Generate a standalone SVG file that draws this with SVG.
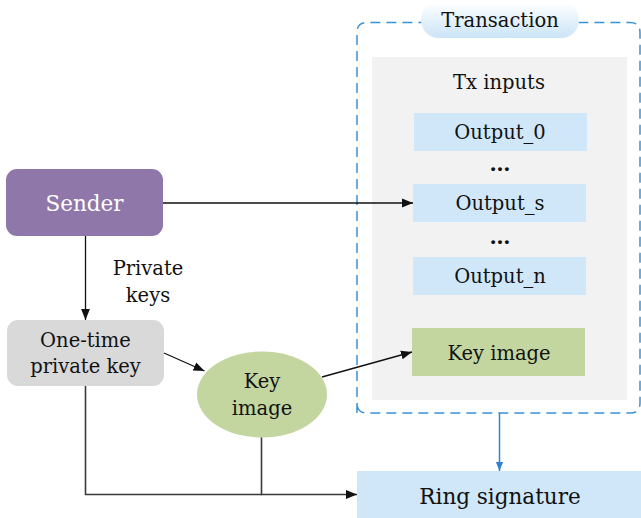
<svg xmlns="http://www.w3.org/2000/svg" width="641" height="518" viewBox="0 0 641 518">
  <style>
    text { font-family: "DejaVu Serif", "Liberation Serif", serif; fill: #111; text-anchor: middle; }
    .t { font-size: 19.5px; }
    .dots { font-size: 21px; font-weight: bold; }
    .line { fill: none; stroke: #111; stroke-width: 1.3; }
    .dark { fill: none; stroke: #3a3a3a; stroke-width: 1.6; }
    .blue { fill: #cfe7f9; }
    .green { fill: #c4d6a0; }
  </style>
  <defs>
    <marker id="arr" viewBox="0 0 10 10" refX="10" refY="5" markerWidth="11" markerHeight="11" markerUnits="userSpaceOnUse" orient="auto">
      <path d="M0,1 L10,5 L0,9 Z" fill="#111"/>
    </marker>
    <marker id="arrBlue" viewBox="0 0 10 10" refX="10" refY="5" markerWidth="9" markerHeight="9" markerUnits="userSpaceOnUse" orient="auto">
      <path d="M0,1 L10,5 L0,9 Z" fill="#2f82cf"/>
    </marker>
    <linearGradient id="pill" x1="0" y1="0" x2="0" y2="1">
      <stop offset="0" stop-color="#ffffff"/>
      <stop offset="1" stop-color="#cbe4f7"/>
    </linearGradient>
  </defs>

  <!-- transaction container -->
  <g id="transaction">
    <path d="M357,413 V32.5 Q357,22.5 367,22.5 H630 Q640,22.5 640,32.5 V403 Q640,413 630,413 H367 Q357,413 357,403 Z" fill="none" stroke="#3b91d6" stroke-width="1.5" stroke-dasharray="10,6"/>
    <rect x="421" y="2" width="158" height="36" rx="18" fill="url(#pill)"/>
    <text x="500" y="27" class="t">Transaction</text>
    <rect x="372" y="57" width="255" height="343" fill="#f2f2f2"/>
    <text x="499" y="89" class="t">Tx inputs</text>
  </g>

  <g id="output0">
    <rect x="414" y="113" width="173" height="38" class="blue"/>
    <text x="500" y="139" class="t">Output_0</text>
  </g>
  <text x="500" y="171" class="dots">…</text>
  <g id="outputS">
    <rect x="413" y="184" width="173" height="38" class="blue"/>
    <text x="500" y="210" class="t">Output_s</text>
  </g>
  <text x="500" y="244" class="dots">…</text>
  <g id="outputN">
    <rect x="413" y="257" width="173" height="38" class="blue"/>
    <text x="500" y="283" class="t">Output_n</text>
  </g>
  <g id="keyImageInput">
    <rect x="412" y="328" width="173" height="48" class="green"/>
    <text x="499" y="360" class="t">Key image</text>
  </g>

  <g id="sender">
    <rect x="6" y="169" width="157" height="67" rx="11" fill="#8f77aa"/>
    <text x="84.5" y="211" style="font-size:21.5px; fill:#fff">Sender</text>
  </g>

  <g id="oneTimeKey">
    <rect x="7" y="320" width="157" height="66" rx="11" fill="#d9d9d9"/>
    <text x="85.5" y="347" class="t">One-time</text>
    <text x="85.5" y="373" class="t">private key</text>
  </g>

  <g id="keyImage">
    <ellipse cx="262" cy="394.5" rx="65" ry="43" class="green"/>
    <text x="262" y="388" class="t">Key</text>
    <text x="262" y="415" class="t">image</text>
  </g>

  <g id="ringSignature">
    <rect x="357" y="471" width="284" height="47" class="blue"/>
    <text x="500" y="504" style="font-size:21.5px">Ring signature</text>
  </g>

  <text x="148" y="275" class="t">Private</text>
  <text x="148" y="302" class="t">keys</text>

  <g id="connectors">
    <path d="M163,203 H413" class="line" marker-end="url(#arr)"/>
    <path d="M85.5,236 V320" class="line" marker-end="url(#arr)"/>
    <path d="M164,353 L204.5,371" class="line" marker-end="url(#arr)"/>
    <path d="M322,377 L412,352" class="line" marker-end="url(#arr)"/>
    <path d="M85.5,386 V494.5 H262" class="dark"/>
    <path d="M261.5,437.5 V494.5 H357" class="dark" marker-end="url(#arr)"/>
    <path d="M499.5,413 V471" fill="none" stroke="#2f82cf" stroke-width="1.5" marker-end="url(#arrBlue)"/>
  </g>
</svg>
